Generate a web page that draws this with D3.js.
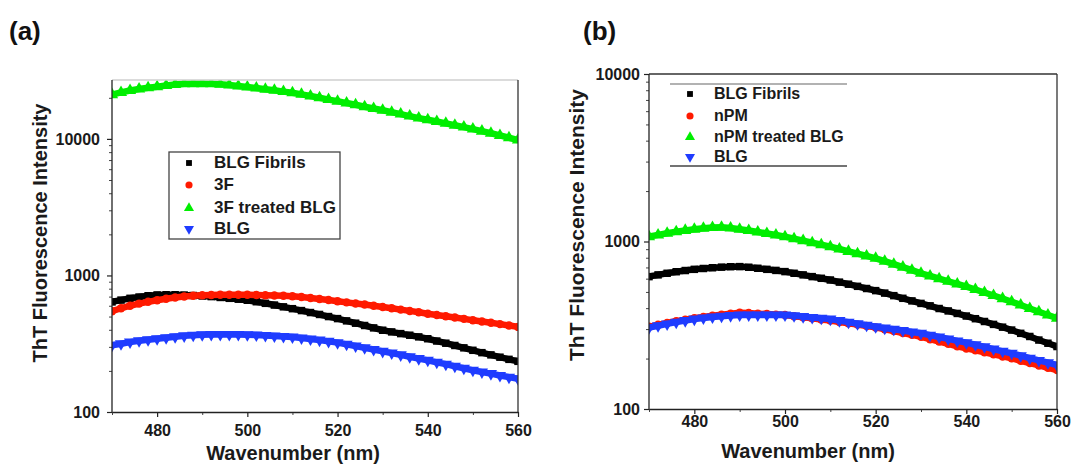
<!DOCTYPE html>
<html>
<head>
<meta charset="utf-8">
<script src="https://cdn.jsdelivr.net/npm/d3@7"></script>
<style>
  body { margin: 0; background: #fff; }
  svg { display: block; font-family: "Liberation Sans", Arial, sans-serif; }
</style>
</head>
<body>
<svg id="chart" width="1074" height="466" viewBox="0 0 1074 466"></svg>
<script>
// wavelengths (nm), read every 2 nm
const wavelength = [470,472,474,476,478,480,482,484,486,488,490,492,494,496,498,500,502,504,506,508,
  510,512,514,516,518,520,522,524,526,528,530,532,534,536,538,540,542,544,546,548,550,552,554,556,558,560]

// panel (a)
const aFibrils = [640,660,680,695,710,720,722,722,718,713,708,700,690,680,670,658,642,625,607,589,
  571,553,535,518,500,483,465,447,430,413,397,386,375,365,355,344,331,319,307,295,283,272,262,252,243,235]
const a3F = [547,575,600,622,641,658,675,690,701,710,716,720,722,723,723,723,720,717,713,709,
  705,695,684,672,660,647,635,623,612,600,588,575,562,550,537,525,514,503,492,481,470,460,450,440,430,420]
const a3FTreated = [21100,21900,22600,23200,23700,24100,24600,25000,25300,25400,25400,25300,25100,24800,24400,24000,23600,23100,22700,22200,
  21800,21200,20600,20000,19400,18900,18300,17800,17200,16700,16200,15700,15200,14700,14200,13800,13400,13000,12600,12200,11800,11400,11000,10600,10200,9800]
const aBLG = [308,316,325,332,338,344,350,356,361,365,368,369,370,370,369,368,366,363,360,357,
  354,348,342,336,329,322,313,304,295,287,278,270,262,254,246,239,231,224,216,209,202,196,191,185,180,175]

// panel (b)
const bFibrils = [617,632,646,660,671,682,690,697,703,707,708,702,692,682,672,661,646,632,617,603,
  589,572,556,540,524,509,492,475,458,442,427,413,398,385,372,359,346,333,320,308,296,283,271,258,247,236]
const bNPM = [310,318,326,334,341,348,354,360,366,371,376,374,371,369,366,364,358,353,348,342,
  337,331,325,319,313,307,299,292,284,277,270,261,253,245,237,230,224,218,212,206,201,194,188,182,176,171]
const bNPMTreated = [1069,1095,1120,1145,1165,1183,1200,1212,1215,1205,1183,1162,1140,1117,1093,1069,1040,1012,984,957,
  931,902,873,846,820,794,763,732,703,674,646,623,600,579,558,538,517,496,476,456,437,418,398,381,364,348]
const bBLG = [306,314,322,330,337,344,349,354,358,361,364,364,364,364,364,364,360,356,352,348,
  344,337,330,323,316,310,304,299,294,288,283,276,269,262,255,249,242,235,228,221,215,208,201,195,189,183]

const xTicks = [480,500,520,540,560]
const xMinor = [470,490,510,530,550]
const yTicks = [100,1000,10000]

const svg = d3.select("#chart")

const markers = {
  square: {type: d3.symbolSquare, size: 56, legend: 34, rot: 0},
  circle: {type: d3.symbolCircle, size: 56, legend: 40, rot: 0},
  up: {type: d3.symbolTriangle, size: 64, legend: 44, rot: 0},
  down: {type: d3.symbolTriangle, size: 64, legend: 44, rot: 180}
}

function drawPanel(cfg)
{
    const x = d3.scaleLinear().domain([470, 560]).range([cfg.left, cfg.right])
    const y = d3.scaleLog().domain([100, cfg.ymax]).range([cfg.bottom, cfg.top])

    const clipId = "clip_" + cfg.name
    svg.append("clipPath").attr("id", clipId)
        .append("rect")
        .attr("x", cfg.left).attr("y", cfg.top)
        .attr("width", cfg.right - cfg.left).attr("height", cfg.bottom - cfg.top)

    const plot = svg.append("g").attr("clip-path", `url(#${clipId})`)
    const line = d3.line().x((d, i) => x(wavelength[i])).y(d => y(d))

    cfg.series.forEach(s => {
        plot.append("path")
            .attr("d", line(s.values))
            .attr("fill", "none")
            .attr("stroke", s.color)
            .attr("stroke-width", 6.5)
        const m = markers[s.marker]
        plot.append("g").selectAll("path")
            .data(s.values)
            .enter()
            .append("path")
            .attr("d", d3.symbol().type(m.type).size(m.size))
            .attr("transform", (d, i) => `translate(${x(wavelength[i])},${y(d)}) rotate(${m.rot})`)
            .attr("fill", s.color)
    })

    // frame: top and right
    svg.append("line")
        .attr("x1", cfg.left).attr("x2", cfg.right)
        .attr("y1", cfg.top).attr("y2", cfg.top)
        .attr("stroke", cfg.topColor).attr("stroke-width", 1.3)
    svg.append("line")
        .attr("x1", cfg.right).attr("x2", cfg.right)
        .attr("y1", cfg.top).attr("y2", cfg.bottom)
        .attr("stroke", "#333").attr("stroke-width", 1.3)

    // minor ticks
    const yMinor = []
    ;[100, 1000, 10000].forEach(b => { for (let k = 2; k <= 9; k++) if (b * k <= cfg.ymax) yMinor.push(b * k) })
    svg.append("g")
        .attr("transform", `translate(${cfg.left},0)`)
        .call(d3.axisLeft(y).tickValues(yMinor).tickSize(3).tickFormat(""))
        .call(g => g.select(".domain").remove())
        .selectAll("line").attr("stroke", "#444")
    svg.append("g")
        .attr("transform", `translate(0,${cfg.bottom})`)
        .call(d3.axisBottom(x).tickValues(xMinor).tickSize(3).tickFormat(""))
        .call(g => g.select(".domain").remove())
        .selectAll("line").attr("stroke", "#444")

    // major axes
    const yAxis = svg.append("g")
        .attr("transform", `translate(${cfg.left},0)`)
        .call(d3.axisLeft(y).tickValues(yTicks).tickSize(5).tickSizeOuter(0)
            .tickPadding(cfg.yPad).tickFormat(d3.format("d")))
    const xAxis = svg.append("g")
        .attr("transform", `translate(0,${cfg.bottom})`)
        .call(d3.axisBottom(x).tickValues(xTicks).tickSize(5).tickSizeOuter(0)
            .tickPadding(cfg.xPad))
    ;[yAxis, xAxis].forEach(a => {
        a.select(".domain").attr("stroke", "#222").attr("stroke-width", 1.3)
        a.selectAll(".tick line").attr("stroke", "#222").attr("stroke-width", 1.2)
        a.selectAll("text")
            .attr("font-size", 16).attr("font-weight", "bold")
            .attr("fill", "#1a1a1a")
            .attr("font-family", "'Liberation Sans', Arial, sans-serif")
    })
    yAxis.select(".domain").attr("d", `M0,${cfg.top}V${cfg.bottom}`)

    // titles
    svg.append("text")
        .attr("transform", `translate(${cfg.yTitleX},${cfg.yTitleY}) rotate(-90)`)
        .attr("text-anchor", "middle")
        .attr("font-size", cfg.yTitleSize).attr("font-weight", "bold")
        .attr("fill", "#1a1a1a")
        .text("ThT Fluorescence Intensity")
    svg.append("text")
        .attr("x", cfg.xTitleX).attr("y", cfg.xTitleY)
        .attr("text-anchor", "middle")
        .attr("font-size", 20).attr("font-weight", "bold")
        .attr("fill", "#1a1a1a")
        .text("Wavenumber (nm)")
    svg.append("text")
        .attr("x", cfg.tagX).attr("y", 40)
        .attr("font-size", 26).attr("font-weight", "bold")
        .attr("fill", "#111")
        .text(cfg.tag)

    // legend
    const lg = svg.append("g")
    if (cfg.legendBox) {
        lg.append("rect")
            .attr("x", cfg.legendBox[0]).attr("y", cfg.legendBox[1])
            .attr("width", cfg.legendBox[2]).attr("height", cfg.legendBox[3])
            .attr("fill", "#fff").attr("stroke", "#444").attr("stroke-width", 1.3)
    }
    if (cfg.legendRules) {
        cfg.legendRules.forEach(r => {
            lg.append("line")
                .attr("x1", r[0]).attr("x2", r[1]).attr("y1", r[2]).attr("y2", r[2])
                .attr("stroke", r[3]).attr("stroke-width", 1.4)
        })
    }
    cfg.series.slice().sort((a, b) => a.order - b.order).forEach((s, i) => {
        const yy = cfg.legendY[i]
        const m = markers[s.marker]
        lg.append("path")
            .attr("d", d3.symbol().type(m.type).size(m.legend))
            .attr("transform", `translate(${cfg.legendMarkX},${yy - 5}) rotate(${m.rot})`)
            .attr("fill", s.color)
        lg.append("text")
            .attr("x", cfg.legendTextX).attr("y", yy)
            .attr("font-size", cfg.legendFont).attr("font-weight", "bold")
            .attr("fill", "#1a1a1a")
            .text(s.name)
    })
}

drawPanel({
    name: "a", tag: "(a)", tagX: 9,
    left: 112, right: 518, top: 80, bottom: 412, ymax: 27000,
    topColor: "#cfcfcf", yPad: 7, xPad: 8,
    yTitleX: 47, yTitleY: 233, yTitleSize: 20,
    xTitleX: 293, xTitleY: 460,
    legendBox: [169, 152, 171, 87],
    legendY: [168, 190, 213, 234], legendMarkX: 189, legendTextX: 214, legendFont: 17,
    series: [
        {name: "BLG Fibrils", values: aFibrils, color: "#000000", marker: "square", order: 0},
        {name: "3F", values: a3F, color: "#ff1a00", marker: "circle", order: 1},
        {name: "3F treated BLG", values: a3FTreated, color: "#00ee00", marker: "up", order: 2},
        {name: "BLG", values: aBLG, color: "#1f3cff", marker: "down", order: 3}
    ]
})

drawPanel({
    name: "b", tag: "(b)", tagX: 583,
    left: 649, right: 1057, top: 74, bottom: 409, ymax: 10000,
    topColor: "#333", yPad: 4, xPad: 2,
    yTitleX: 584, yTitleY: 225, yTitleSize: 21,
    xTitleX: 808, xTitleY: 458,
    legendRules: [[670, 847, 84, "#999"], [670, 847, 166, "#444"]],
    legendY: [99, 121, 142, 162], legendMarkX: 690, legendTextX: 714, legendFont: 16,
    series: [
        {name: "BLG Fibrils", values: bFibrils, color: "#000000", marker: "square", order: 0},
        {name: "nPM treated BLG", values: bNPMTreated, color: "#00ee00", marker: "up", order: 2},
        {name: "nPM", values: bNPM, color: "#ff1a00", marker: "circle", order: 1},
        {name: "BLG", values: bBLG, color: "#1f3cff", marker: "down", order: 3}
    ]
})
</script>
</body>
</html>
